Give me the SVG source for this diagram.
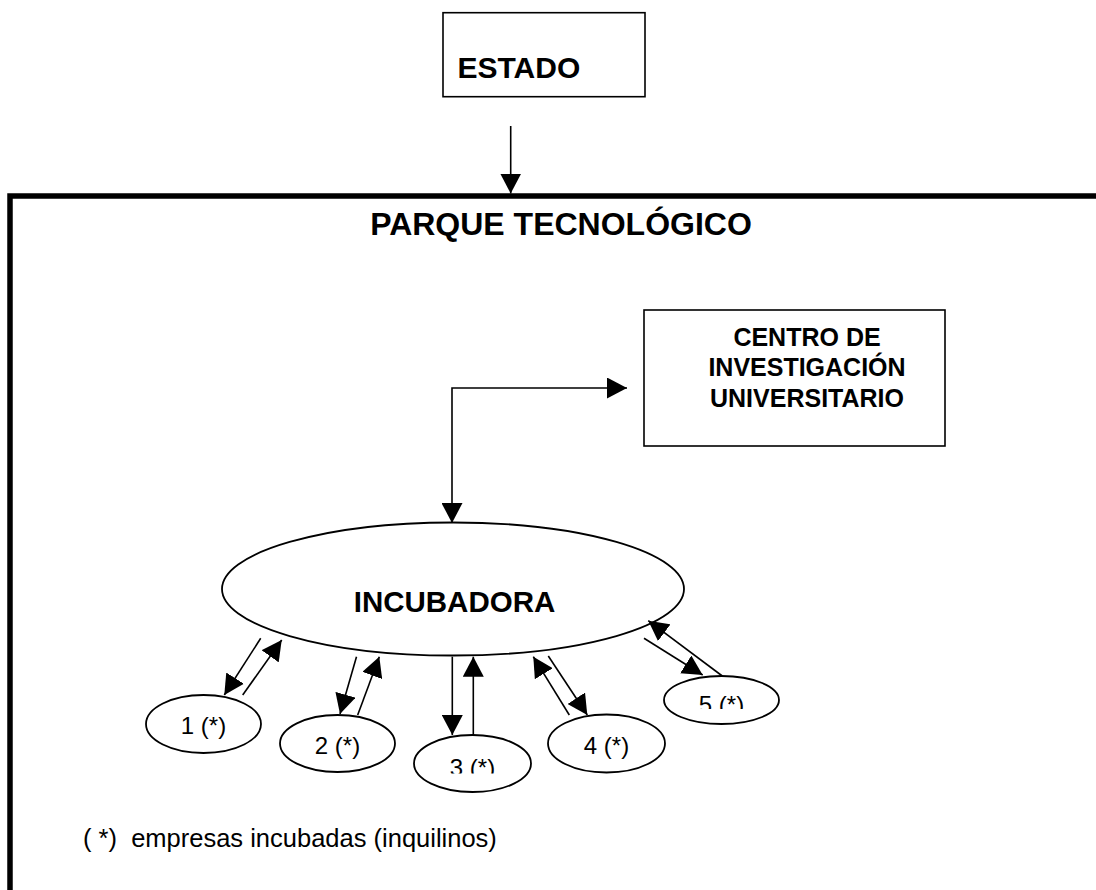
<svg xmlns="http://www.w3.org/2000/svg" width="1096" height="890" viewBox="0 0 1096 890">
<style>
.box{fill:#fff;stroke:#000;stroke-width:1.6}
.ell{fill:#fff;stroke:#000;stroke-width:1.8}
.bold{font-family:"Liberation Sans",Arial,sans-serif;font-weight:bold;fill:#000}
.reg{font-family:"Liberation Sans",Arial,sans-serif;fill:#000}
.con{fill:none;stroke:#000;stroke-width:1.6}
</style>
<defs>
<marker id="ah" markerUnits="userSpaceOnUse" markerWidth="20" markerHeight="21" refX="20" refY="10.5" orient="auto-start-reverse" viewBox="0 0 20 21">
<path d="M0,0 L20,10.5 L0,21 Z" fill="#000"/>
</marker>
<clipPath id="clip5"><rect x="660" y="680" width="120" height="29"/></clipPath>
<clipPath id="clip3"><rect x="410" y="740" width="130" height="33.5"/></clipPath>
</defs>
<rect width="1096" height="890" fill="#fff"/>
<g id="parque">
<rect x="10" y="196" width="1100" height="800" fill="none" stroke="#000" stroke-width="5.5"/>
<text class="bold" x="561" y="235" font-size="32" text-anchor="middle">PARQUE TECNOLÓGICO</text>
</g>
<g id="estado">
<rect class="box" x="443" y="12.7" width="202" height="84"/>
<text class="bold" x="457.5" y="78" font-size="30">ESTADO</text>
</g>
<g id="centro">
<rect class="box" x="644" y="310" width="301" height="136"/>
<text class="bold" font-size="25" text-anchor="middle"><tspan x="807" y="346">CENTRO DE</tspan><tspan x="807" y="376">INVESTIGACIÓN</tspan><tspan x="807" y="406.5">UNIVERSITARIO</tspan></text>
</g>
<g id="incubadora">
<ellipse class="ell" cx="453" cy="589" rx="231" ry="66.5"/>
<text class="bold" x="454.5" y="611.5" font-size="29.5" text-anchor="middle">INCUBADORA</text>
</g>
<g id="e1">
<ellipse class="ell" cx="203.5" cy="724" rx="57.5" ry="29"/>
<text class="reg" x="203.5" y="733.5" font-size="24" text-anchor="middle">1 (*)</text>
</g>
<g id="e2">
<ellipse class="ell" cx="337.5" cy="743.5" rx="57.5" ry="28.5"/>
<text class="reg" x="337.5" y="754" font-size="24" text-anchor="middle">2 (*)</text>
</g>
<g id="e3">
<ellipse class="ell" cx="472.5" cy="763.5" rx="58.5" ry="28.5"/>
<text class="reg" x="472.5" y="775.5" font-size="24" text-anchor="middle" clip-path="url(#clip3)">3 (*)</text>
</g>
<g id="e4">
<ellipse class="ell" cx="606.5" cy="743.5" rx="58.5" ry="29"/>
<text class="reg" x="606.5" y="754" font-size="24" text-anchor="middle">4 (*)</text>
</g>
<g id="e5">
<ellipse class="ell" cx="721.5" cy="700" rx="57.5" ry="24"/>
<text class="reg" x="721.5" y="712.5" font-size="24" text-anchor="middle" clip-path="url(#clip5)">5 (*)</text>
</g>
<g id="nota">
<text class="reg" x="83" y="847" font-size="25.5" xml:space="preserve">( *)  empresas incubadas (inquilinos)</text>
</g>
<g id="connectors">
<path class="con" d="M510.7,126 L510.7,193.5" marker-end="url(#ah)"/>
<path class="con" d="M627,388 L452,388 L452,523" marker-start="url(#ah)" marker-end="url(#ah)"/>
<path class="con" d="M260.7,638.3 L224.3,695" marker-end="url(#ah)"/>
<path class="con" d="M242.7,695 L281.7,640" marker-end="url(#ah)"/>
<path class="con" d="M356.5,656.7 L340,714" marker-end="url(#ah)"/>
<path class="con" d="M357.7,715 L379.3,656.7" marker-end="url(#ah)"/>
<path class="con" d="M452.3,656.7 L452.3,735" marker-end="url(#ah)"/>
<path class="con" d="M473.3,735 L473.3,656.7" marker-end="url(#ah)"/>
<path class="con" d="M569.3,715 L533.3,656.7" marker-end="url(#ah)"/>
<path class="con" d="M548.3,656 L587.3,715" marker-end="url(#ah)"/>
<path class="con" d="M644,638.3 L702.7,675" marker-end="url(#ah)"/>
<path class="con" d="M722.3,676 L648.3,620.7" marker-end="url(#ah)"/>
</g>
</svg>
